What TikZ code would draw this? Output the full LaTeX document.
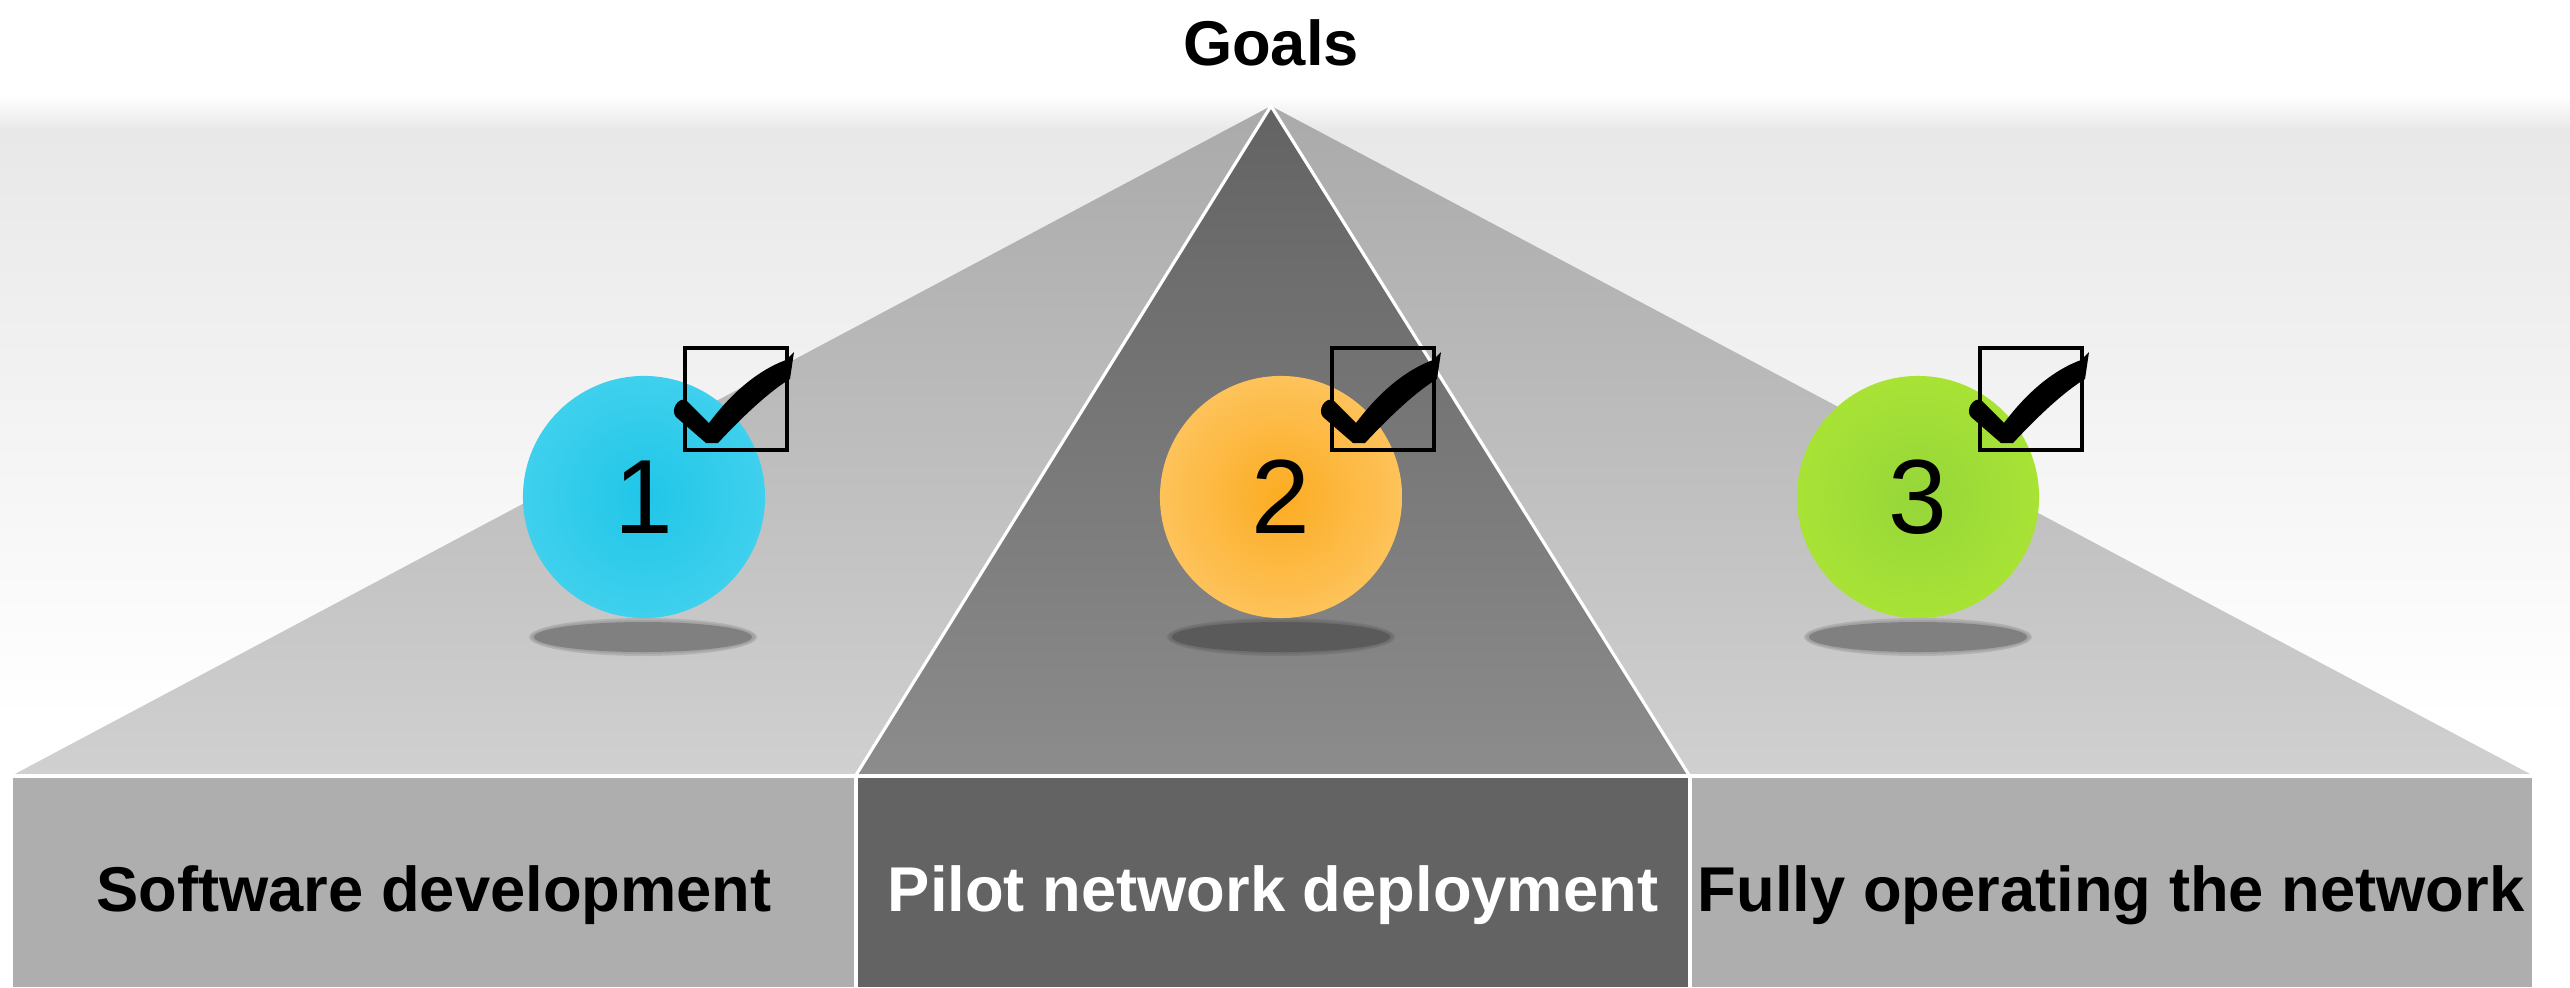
\documentclass[tikz,border=0pt]{standalone}
\usepackage{fontspec}
\setmainfont{Liberation Sans}
\usetikzlibrary{positioning}

\definecolor{bgtop}{HTML}{E8E8E8}
\definecolor{sidetop}{HTML}{AAAAAA}
\definecolor{sidebot}{HTML}{D0D0D0}
\definecolor{midtop}{HTML}{636363}
\definecolor{midbot}{HTML}{8C8C8C}
\definecolor{sidebox}{HTML}{AEAEAE}
\definecolor{midbox}{HTML}{636363}
\definecolor{bluein}{HTML}{20C6E8}
\definecolor{blueout}{HTML}{5DDAF2}
\definecolor{orangein}{HTML}{FCAC22}
\definecolor{orangeout}{HTML}{FED992}
\definecolor{greenin}{HTML}{96D63A}
\definecolor{greenout}{HTML}{B9EF30}
\definecolor{shadowlight}{HTML}{808080}
\definecolor{shadowdark}{HTML}{5A5A5A}

\pgfdeclareradialshading{ballblue}{\pgfpoint{0bp}{0bp}}{color(0bp)=(bluein); color(50bp)=(blueout)}
\pgfdeclareradialshading{ballorange}{\pgfpoint{0bp}{0bp}}{color(0bp)=(orangein); color(50bp)=(orangeout)}
\pgfdeclareradialshading{ballgreen}{\pgfpoint{0bp}{0bp}}{color(0bp)=(greenin); color(50bp)=(greenout)}

\tikzset{
  tickbox/.pic={
    \draw [black, line width=1.4pt] (-51,-51) rectangle (51,51);
    \fill [black] (-50,1) -- (-27,24) .. controls (-6,-4) and (20,-28) .. (50,-39)
      -- (58,-47) -- (54,-20) .. controls (34,-8) and (8,16) .. (-18,44)
      -- (-30,44) -- (-60,18) .. controls (-66,11) and (-58,-2) .. (-50,1) -- cycle;
  },
  blob/.style={fill=#1, opacity=0.3}
}

\begin{document}
\begin{tikzpicture}[x=0.01cm,y=-0.01cm]
\tikzstyle{every node}+=[inner sep=0pt]
\tikzstyle{box text}=[font=\fontsize{18}{20}\selectfont\bfseries, anchor=base]
\tikzstyle{ball}=[circle, minimum size=2.42cm, font=\fontsize{30}{32}\selectfont]
\useasboundingbox (0,0) rectangle (2570,987);
% background
\fill [white] (0,0) rectangle (2570,987);
\shade [top color=white, bottom color=bgtop] (0,95) rectangle (2570,130);
\shade [top color=bgtop, bottom color=white] (0,130) rectangle (2570,720);
% pyramid faces
\coordinate (apex) at (1271,106);
\shade [top color=sidetop, bottom color=sidebot] (apex) -- (13,775) -- (856,775) -- cycle;
\shade [top color=sidetop, bottom color=sidebot] (apex) -- (1689,775) -- (2532,775) -- cycle;
\shade [top color=midtop, bottom color=midbot] (apex) -- (856,775) -- (1689,775) -- cycle;
\draw [white, line width=0.9pt] (856,775) -- (apex) -- (1689,775);
% boxes
\fill [sidebox] (13,776) rectangle (856,987);
\fill [midbox] (856,776) rectangle (1690,987);
\fill [sidebox] (1690,776) rectangle (2532,987);
\draw [white, line width=0.9pt] (13,776) -- (2532,776);
\draw [white, line width=0.9pt] (856,776) -- (856,987);
\draw [white, line width=0.9pt] (1690,776) -- (1690,987);
% shadows
\fill [blob=shadowlight] (643,637) ellipse [x radius=114, y radius=19];
\fill [blob=shadowlight] (643,637) ellipse [x radius=112, y radius=17];
\fill [shadowlight] (643,637) ellipse [x radius=109, y radius=15];
\fill [blob=shadowdark] (1281,637) ellipse [x radius=114, y radius=19];
\fill [blob=shadowdark] (1281,637) ellipse [x radius=112, y radius=17];
\fill [shadowdark] (1281,637) ellipse [x radius=109, y radius=15];
\fill [blob=shadowlight] (1918,637) ellipse [x radius=114, y radius=19];
\fill [blob=shadowlight] (1918,637) ellipse [x radius=112, y radius=17];
\fill [shadowlight] (1918,637) ellipse [x radius=109, y radius=15];
% balls
\node [ball, shading=ballblue] (one) at (644,497) {1};
\node [ball, shading=ballorange] (two) at (1281,497) {2};
\node [ball, shading=ballgreen] (three) at (1918,497) {3};
\pic at (736,399) {tickbox};
\pic at (1383,399) {tickbox};
\pic at (2031,399) {tickbox};
% labels
\node [box text] (goals) at (1271,65) {Goals};
\node [box text] (soft) at (434,911) {Software development};
\node [box text, white] (pilot) at (1273,911) {Pilot network deployment};
\node [box text] (full) at (2111,911) {Fully operating the network};
\end{tikzpicture}
\end{document}
